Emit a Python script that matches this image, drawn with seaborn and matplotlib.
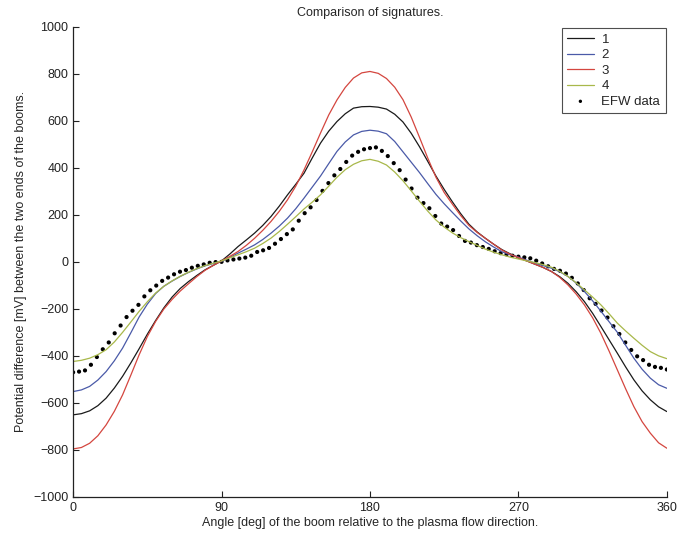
import numpy as np
import pandas as pd
import matplotlib
matplotlib.use("Agg")
import matplotlib.pyplot as plt
import seaborn as sns

# signatures, every 5 deg
angle = list(range(0, 361, 5))
sig1 = [-651, -646, -634, -612, -580, -537, -487, -430, -370, -308,
        -250, -196, -150, -113, -84, -58, -34, -15, 4, 33,
        65, 93, 122, 155, 193, 237, 285, 330, 377, 442,
        505, 556, 597, 630, 654, 660, 661, 658, 650, 628,
        595, 547, 490, 428, 365, 308, 255, 205, 160, 127,
        100, 75, 52, 34, 18, 4, -10, -24, -41, -63,
        -91, -127, -169, -219, -275, -332, -389, -447, -502, -549,
        -587, -617, -637]
sig2 = [-552, -545, -530, -503, -467, -421, -367, -302, -235, -180,
        -135, -104, -82, -62, -45, -30, -17, -7, 2, 19,
        37, 54, 72, 95, 122, 152, 186, 226, 271, 318,
        365, 418, 470, 510, 540, 555, 560, 556, 545, 512,
        468, 424, 380, 333, 287, 247, 210, 174, 140, 111,
        85, 63, 43, 30, 20, 7, -6, -16, -27, -42,
        -62, -90, -126, -166, -210, -255, -300, -355, -410, -457,
        -495, -523, -538]
sig3 = [-796, -790, -772, -740, -694, -636, -566, -482, -396, -318,
        -254, -201, -160, -124, -93, -63, -36, -15, 4, 23,
        44, 70, 100, 134, 172, 215, 264, 322, 391, 468,
        548, 625, 689, 742, 782, 804, 810, 802, 780, 743,
        690, 616, 530, 442, 360, 295, 245, 197, 155, 125,
        100, 75, 50, 32, 18, 4, -10, -24, -41, -66,
        -98, -137, -183, -238, -304, -380, -460, -540, -616, -680,
        -729, -770, -793]
sig4 = [-424, -419, -410, -395, -374, -341, -300, -256, -211, -170,
        -133, -104, -81, -61, -44, -29, -16, -6, 4, 17,
        30, 43, 58, 78, 101, 129, 160, 192, 225, 254,
        285, 322, 360, 392, 415, 430, 436, 428, 412, 382,
        345, 302, 258, 216, 178, 148, 123, 103, 86, 70,
        54, 41, 30, 20, 12, 4, -3, -12, -23, -40,
        -62, -89, -119, -150, -183, -221, -261, -294, -325, -355,
        -382, -400, -412]

# EFW measurements, one every 3.6 deg
efw_angle = np.arange(101) * 3.6
efw = [-470, -467, -462, -438, -405, -372, -343, -304, -271, -235,
       -208, -183, -147, -121, -101, -81, -67, -53, -42, -35,
       -25, -17, -11, -4, -1, 0, 6, 10, 14, 18,
       26, 42, 49, 59, 77, 97, 118, 138, 175, 207,
       232, 263, 302, 335, 368, 395, 425, 452, 468, 479,
       484, 487, 472, 450, 420, 390, 350, 312, 273, 250,
       228, 195, 163, 150, 135, 110, 89, 82, 71, 63,
       55, 45, 37, 32, 26, 22, 19, 15, 5, -7,
       -19, -30, -38, -50, -68, -92, -120, -155, -179, -207,
       -237, -274, -307, -343, -375, -402, -418, -438, -447, -451,
       -458]

sns.set_theme(style="ticks")
plt.rcParams["font.family"] = ["Liberation Sans", "DejaVu Sans"]

fig = plt.figure(figsize=(6.77, 5.36), dpi=100)
ax = fig.add_axes([0.108, 0.073, 0.877, 0.877])

sns.lineplot(x=angle, y=sig1, color="#1a1a1a", linewidth=0.9, label="1", ax=ax)
sns.lineplot(x=angle, y=sig2, color="#4a5aa8", linewidth=0.9, label="2", ax=ax)
sns.lineplot(x=angle, y=sig3, color="#d4463f", linewidth=0.9, label="3", ax=ax)
sns.lineplot(x=angle, y=sig4, color="#a8b84a", linewidth=0.9, label="4", ax=ax)
sns.scatterplot(x=efw_angle, y=efw, color="black", s=9, edgecolor="none",
                label="EFW data", ax=ax)

ax.set_xlim(0, 360)
ax.set_ylim(-1000, 1000)
ax.set_xticks([0, 90, 180, 270, 360])
ax.set_yticks(range(-1000, 1001, 200))
ax.tick_params(direction="in", length=4, width=0.8, labelsize=9, colors="#222222")
sns.despine(ax=ax)
for s in ["left", "bottom"]:
    ax.spines[s].set_linewidth(0.9)
    ax.spines[s].set_color("#222222")

ax.set_title("Comparison of signatures.", fontsize=9, pad=8)
ax.set_xlabel("Angle [deg] of the boom relative to the plasma flow direction.",
              fontsize=9, labelpad=2)
ax.set_ylabel("Potential difference [mV] between the two ends of the booms.",
              fontsize=9, labelpad=4)

handles, labels = ax.get_legend_handles_labels()
leg = ax.legend(handles=handles, labels=labels, loc="upper right", fontsize=9.5,
                fancybox=False, frameon=True, handlelength=2.0, handletextpad=0.6,
                borderaxespad=0.1, labelspacing=0.25, markerscale=0.8)
leg.get_frame().set_edgecolor("#222222")
leg.get_frame().set_linewidth(0.8)

plt.savefig("out.png", dpi=100)
